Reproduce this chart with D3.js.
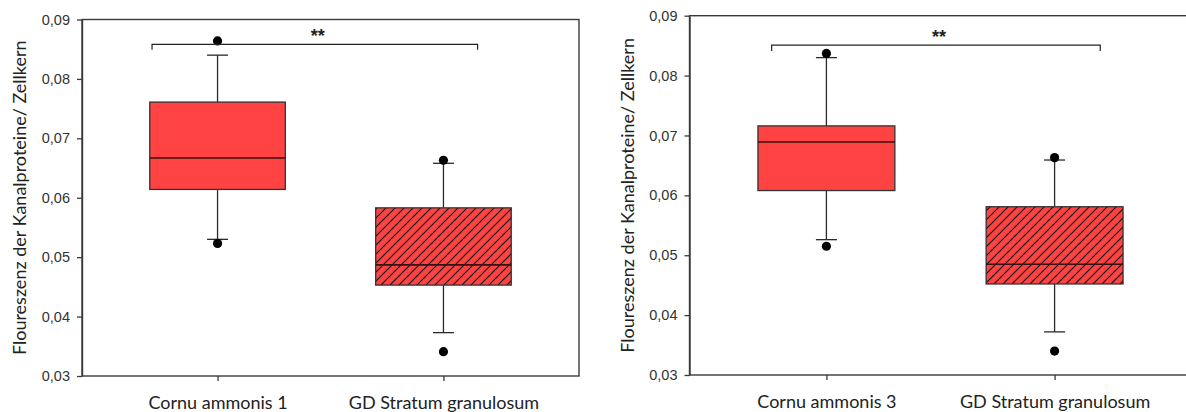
<!DOCTYPE html>
<html><head><meta charset="utf-8">
<script src="https://cdn.jsdelivr.net/npm/d3@7"></script>
<style>body{margin:0;background:#fff;overflow:hidden} svg{display:block}</style>
</head><body>
<svg id="chart" width="1186" height="412"></svg>
<script>
// ---------- data ----------
const yTicks = [0.03, 0.04, 0.05, 0.06, 0.07, 0.08, 0.09];
const yTitle = "Floureszenz der Kanalproteine/ Zellkern";

const categoriesA   = ["Cornu ammonis 1", "GD Stratum granulosum"];
const whiskerLowA   = [0.0530, 0.0373];
const q1A           = [0.0614, 0.0453];
const medianA       = [0.0667, 0.0487];
const q3A           = [0.0761, 0.0583];
const whiskerHighA  = [0.0840, 0.0658];
const outliersA     = [[0.0864, 0.0523], [0.0663, 0.0341]];
const hatchedA      = [false, true];
const bracketA      = [0.0858, 0.0849];   // bar value, end-drop value
const signifA       = "**";

const categoriesB   = ["Cornu ammonis 3", "GD Stratum granulosum"];
const whiskerLowB   = [0.0526, 0.0372];
const q1B           = [0.0608, 0.0452];
const medianB       = [0.0689, 0.0485];
const q3B           = [0.0716, 0.0581];
const whiskerHighB  = [0.0830, 0.0659];
const outliersB     = [[0.0837, 0.0515], [0.0663, 0.0340]];
const hatchedB      = [false, true];
const bracketB      = [0.0851, 0.0841];
const signifB       = "**";

// ---------- drawing ----------
const svg = d3.select("#chart");
const defs = svg.append("defs");
const hatch = defs.append("pattern").attr("id", "hatch")
  .attr("patternUnits", "userSpaceOnUse").attr("width", 9).attr("height", 9);
hatch.append("rect").attr("width", 9).attr("height", 9).attr("fill", "#ff4343");
hatch.append("path").attr("d", "M-2,2 L2,-2 M0,9 L9,0 M7,11 L11,7")
  .attr("stroke", "#111").attr("stroke-width", 1.2).attr("fill", "none");

const FILL = "#ff4343";
const LINE = "#2a2a2a";
const fmt = d => d3.format(".2f")(d).replace(".", ",");

function drawPanel(cfg) {
  const g = svg.append("g");
  const x = d3.scalePoint().domain(cfg.categories).range([cfg.left, cfg.right]).padding(0.6);
  const y = d3.scaleLinear().domain([yTicks[0], yTicks[yTicks.length - 1]]).range([cfg.bottom, cfg.top]);
  const step = x.step();
  const bw = step * 0.6;
  const capW = 21;

  // frame
  g.append("rect").attr("x", cfg.left).attr("y", cfg.top)
    .attr("width", cfg.right - cfg.left).attr("height", cfg.bottom - cfg.top)
    .attr("fill", "none").attr("stroke", "#3a3a3a").attr("stroke-width", 1.4);

  // y axis
  const ya = g.append("g").attr("transform", `translate(${cfg.left},0)`)
    .call(d3.axisLeft(y).tickValues(yTicks).tickFormat(fmt).tickSize(5).tickSizeOuter(0).tickPadding(7));
  ya.select(".domain").attr("stroke", "#3a3a3a").attr("stroke-width", 1.4);
  ya.selectAll(".tick line").attr("stroke", "#3a3a3a").attr("stroke-width", 1.3);
  ya.selectAll(".tick text").attr("font-family", "'Liberation Sans', Arial, sans-serif")
    .attr("font-size", 14.5).attr("fill", "#333");

  // x axis
  const xa = g.append("g").attr("transform", `translate(0,${cfg.bottom})`)
    .call(d3.axisBottom(x).tickSize(5).tickSizeOuter(0));
  xa.select(".domain").remove();
  xa.selectAll(".tick line").attr("stroke", "#3a3a3a").attr("stroke-width", 1.3);
  xa.selectAll(".tick text").attr("y", 33).attr("dy", 0)
    .attr("font-family", "Lato, 'Open Sans', sans-serif").attr("font-size", 18).attr("fill", "#222");

  // y title
  g.append("text")
    .attr("transform", `translate(${cfg.titleX},${(cfg.top + cfg.bottom) / 2}) rotate(-90)`)
    .attr("text-anchor", "middle")
    .attr("font-family", "Lato, 'Open Sans', sans-serif").attr("font-size", 18).attr("fill", "#222")
    .text(yTitle);

  // boxes
  cfg.categories.forEach((c, i) => {
    const cx = x(c);
    g.append("line").attr("x1", cx).attr("x2", cx).attr("y1", y(cfg.q3[i])).attr("y2", y(cfg.whiskerHigh[i]))
      .attr("stroke", LINE).attr("stroke-width", 1.3);
    g.append("line").attr("x1", cx).attr("x2", cx).attr("y1", y(cfg.q1[i])).attr("y2", y(cfg.whiskerLow[i]))
      .attr("stroke", LINE).attr("stroke-width", 1.3);
    [cfg.whiskerHigh[i], cfg.whiskerLow[i]].forEach(v => {
      g.append("line").attr("x1", cx - capW / 2).attr("x2", cx + capW / 2).attr("y1", y(v)).attr("y2", y(v))
        .attr("stroke", LINE).attr("stroke-width", 1.3);
    });
    g.append("rect").attr("x", cx - bw / 2).attr("width", bw)
      .attr("y", y(cfg.q3[i])).attr("height", y(cfg.q1[i]) - y(cfg.q3[i]))
      .attr("fill", cfg.hatched[i] ? "url(#hatch)" : FILL)
      .attr("stroke", "#333").attr("stroke-width", 1.3);
    g.append("line").attr("x1", cx - bw / 2).attr("x2", cx + bw / 2)
      .attr("y1", y(cfg.median[i])).attr("y2", y(cfg.median[i]))
      .attr("stroke", "#3a1010").attr("stroke-width", 1.6);
    cfg.outliers[i].forEach(v => {
      g.append("circle").attr("cx", cx).attr("cy", y(v)).attr("r", 4.6).attr("fill", "#000");
    });
  });

  // significance bracket
  const bx1 = x(cfg.categories[0]) + cfg.bracketOff[0] * step;
  const bx2 = x(cfg.categories[1]) + cfg.bracketOff[1] * step;
  g.append("path")
    .attr("d", `M${bx1},${y(cfg.bracket[1])} V${y(cfg.bracket[0])} H${bx2} V${y(cfg.bracket[1])}`)
    .attr("fill", "none").attr("stroke", "#222").attr("stroke-width", 1.2);
  g.append("text").attr("x", (bx1 + bx2) / 2 + 3).attr("y", y(cfg.bracket[0]) - 2)
    .attr("text-anchor", "middle").attr("font-family", "'Liberation Sans', Arial, sans-serif")
    .attr("font-weight", "bold").attr("font-size", 18).attr("fill", "#222").text(cfg.signif);
}

drawPanel({
  categories: categoriesA, whiskerLow: whiskerLowA, q1: q1A, median: medianA, q3: q3A,
  whiskerHigh: whiskerHighA, outliers: outliersA, hatched: hatchedA, bracket: bracketA, signif: signifA,
  left: 82, right: 579, top: 19.5, bottom: 376, titleX: 26, bracketOff: [-0.29, 0.151]
});
drawPanel({
  categories: categoriesB, whiskerLow: whiskerLowB, q1: q1B, median: medianB, q3: q3B,
  whiskerHigh: whiskerHighB, outliers: outliersB, hatched: hatchedB, bracket: bracketB, signif: signifB,
  left: 689.5, right: 1191.5, top: 15.7, bottom: 375, titleX: 634, bracketOff: [-0.24, 0.2]
});
</script>
</body></html>
